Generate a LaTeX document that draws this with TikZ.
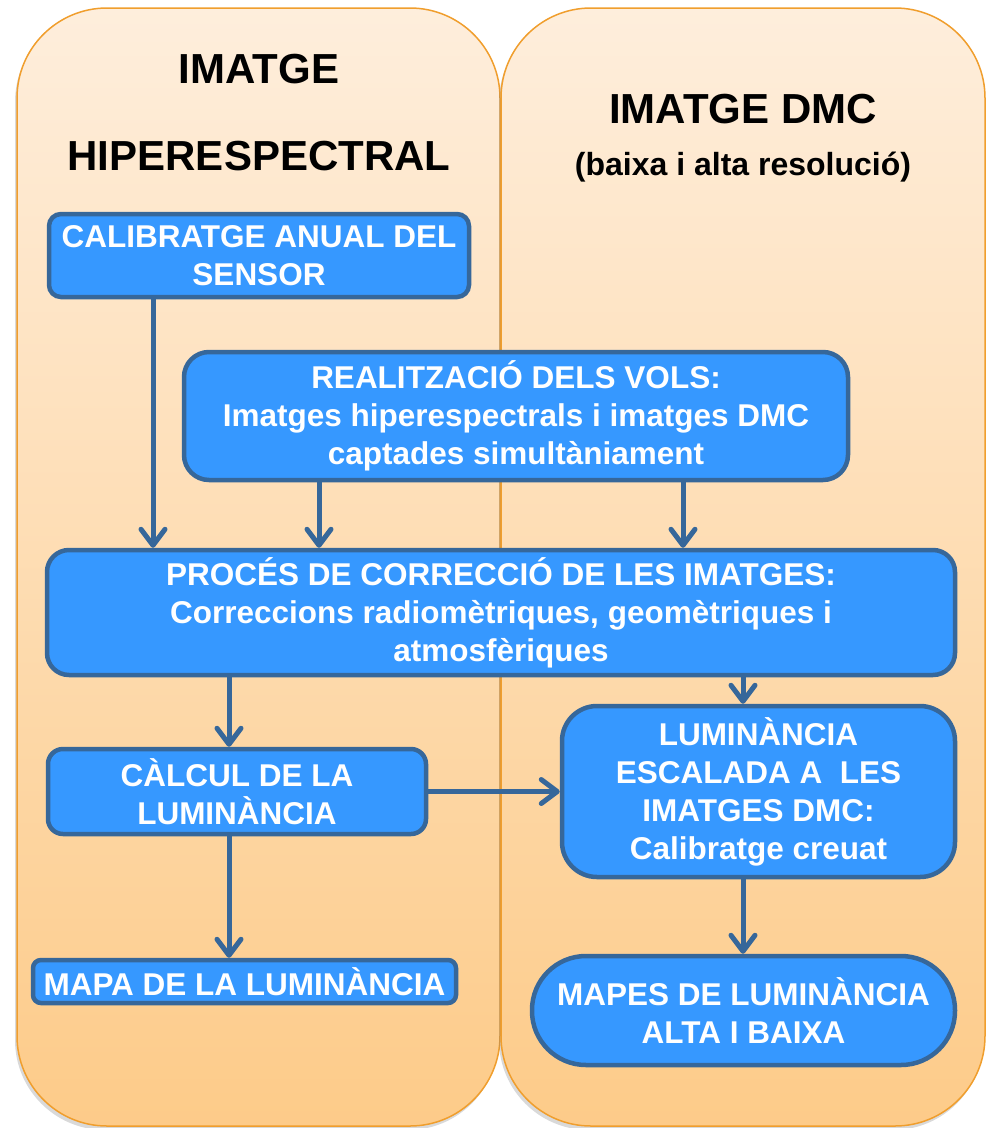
\documentclass[tikz,border=0pt]{standalone}
\usepackage{fontspec}
\setmainfont{Liberation Sans}
\usetikzlibrary{arrows.meta, shadows}

\definecolor{laneline}{RGB}{240,158,45}
\definecolor{lanetop}{RGB}{254,238,220}
\definecolor{lanebottom}{RGB}{253,203,137}
\definecolor{boxfill}{RGB}{54,152,255}
\definecolor{boxline}{RGB}{54,103,154}

\begin{document}
\begin{tikzpicture}[x = 1pt, y = -1pt,
	lane/.style = {draw = laneline, line width = 1.5pt, top color = lanetop, bottom color = lanebottom, rounded corners = 90pt,
		drop shadow = {shadow xshift = -2pt, shadow yshift = -4pt, opacity = 0.3}},
	box/.style = {draw = boxline, fill = boxfill, line width = 4.5pt, text = white, align = center, inner sep = 0pt,
		font = \fontsize{31.5}{38}\selectfont\bfseries},
	title/.style = {anchor = base, font = \fontsize{42}{50}\selectfont\bfseries},
	arr/.style = {draw = boxline, line width = 5pt, -{Straight Barb[length = 16pt, width = 24pt, round]}}]

	\useasboundingbox (0, 0) rectangle (986, 1128);

	% Columns

	\path [lane] (17, 8) rectangle (500, 1126);
	\path [lane] (501, 8) rectangle (985, 1126);

	% Column titles

	\node [title] (hiptitle) at (259, 83) {IMATGE};
	\node [title] (hiptitleb) at (259, 170) {HIPERESPECTRAL};
	\node [title] (dmctitle) at (743, 123) {IMATGE DMC};
	\node [anchor = base, font = \fontsize{32}{38}\selectfont\bfseries] (dmcsub) at (743, 175) {(baixa i alta resolució)};

	% Steps

	\node [box, minimum width = 420pt, minimum height = 83pt, rounded corners = 12pt] (calib) at (259, 255.5)
		{CALIBRATGE ANUAL DEL\\SENSOR};
	\node [box, minimum width = 664pt, minimum height = 128pt, rounded corners = 25pt] (vols) at (516, 416)
		{REALITZACIÓ DELS VOLS:\\Imatges hiperespectrals i imatges DMC\\captades simultàniament};
	\node [box, minimum width = 908pt, minimum height = 125pt, rounded corners = 22pt] (proc) at (501, 612.5)
		{PROCÉS DE CORRECCIÓ DE LES IMATGES:\\Correccions radiomètriques, geomètriques i\\atmosfèriques};
	\node [box, minimum width = 378pt, minimum height = 85pt, rounded corners = 15pt] (calc) at (237, 791.5)
		{CÀLCUL DE LA\\LUMINÀNCIA};
	\node [box, minimum width = 423pt, minimum height = 43pt, rounded corners = 8pt] (mapa) at (244.5, 981.5)
		{MAPA DE LA LUMINÀNCIA};
	\node [box, minimum width = 393pt, minimum height = 171pt, rounded corners = 35pt] (esc) at (758.5, 791.5)
		{LUMINÀNCIA\\ESCALADA A~~LES\\IMATGES DMC:\\Calibratge creuat};
	\node [box, minimum width = 423pt, minimum height = 109pt, rounded corners = 54pt] (mapes) at (743.5, 1010.5)
		{MAPES DE LUMINÀNCIA\\ALTA I BAIXA};

	% Arrows

	\coordinate (xa) at (153, 0);
	\coordinate (xb) at (319, 0);
	\coordinate (xc) at (683, 0);
	\coordinate (xd) at (229, 0);
	\coordinate (xe) at (743, 0);

	\draw [arr] (calib.south -| xa) -- (proc.north -| xa);
	\draw [arr] (vols.south -| xb) -- (proc.north -| xb);
	\draw [arr] (vols.south -| xc) -- (proc.north -| xc);
	\draw [arr] (proc.south -| xd) -- (calc.north -| xd);
	\draw [arr] (calc.south -| xd) -- (mapa.north -| xd);
	\draw [arr] (proc.south -| xe) -- (esc.north -| xe);
	\draw [arr] (esc.south -| xe) -- (mapes.north -| xe);
	\draw [arr] (calc) -- (esc);

\end{tikzpicture}
\end{document}
